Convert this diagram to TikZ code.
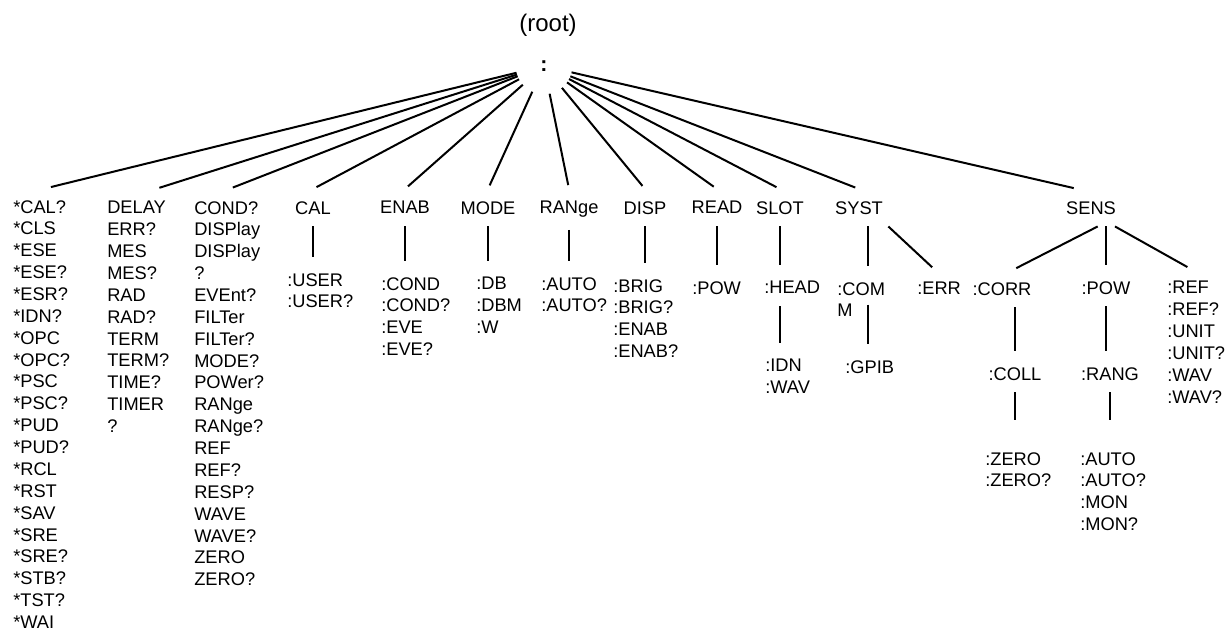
\documentclass[tikz,border=0pt]{standalone}
\usepackage{fontspec}
\setmainfont{Liberation Sans}
\usepackage{tikz}
\usetikzlibrary{positioning}

\begin{document}
\begin{tikzpicture}[x=0.75pt, y=-0.75pt,
    font=\fontsize{13.7}{16.4}\selectfont,
    lbl/.style={inner xsep=0pt, inner ysep=9pt, align=left},
    cmd/.style={lbl, anchor=north},
    lst/.style={lbl, anchor=north west},
    ln/.style={line width=1.5pt, shorten >=3pt},
    far/.style={ln, shorten >=15pt}
]
    \fill[white] (0,0) rectangle (1228,629);
    \useasboundingbox (0,0) rectangle (1228,629);

    \node[cmd, font=\fontsize{18}{20}\selectfont] (root) at (548,2) {(root)};
    \node[circle, inner sep=0pt, minimum size=42pt, font=\fontsize{16}{18}\selectfont\bfseries] (colon) at (544,66) {:};

    \node[lst] (ieee) at (13,188) {*CAL?\\*CLS\\*ESE\\*ESE?\\*ESR?\\*IDN?\\*OPC\\*OPC?\\*PSC\\*PSC?\\*PUD\\*PUD?\\*RCL\\*RST\\*SAV\\*SRE\\*SRE?\\*STB?\\*TST?\\*WAI};
    \node[lst] (delay) at (107,189) {DELAY\\ERR?\\MES\\MES?\\RAD\\RAD?\\TERM\\TERM?\\TIME?\\TIMER\\?};
    \node[lst] (cond) at (194,189) {COND?\\DISPlay\\DISPlay\\?\\EVEnt?\\FILTer\\FILTer?\\MODE?\\POWer?\\RANge\\RANge?\\REF\\REF?\\RESP?\\WAVE\\WAVE?\\ZERO\\ZERO?};
    \node[cmd] (cal) at (313,189) {CAL};
    \node[cmd] (enab) at (405,189) {ENAB};
    \node[cmd] (mode) at (488,189) {MODE};
    \node[cmd] (rang) at (569,189) {RANge};
    \node[cmd] (disp) at (645,189) {DISP};
    \node[cmd] (read) at (717,189) {READ};
    \node[cmd] (slot) at (780,189) {SLOT};
    \node[cmd] (syst) at (859,189) {SYST};
    \node[cmd] (sens) at (1091,189) {SENS};

    \draw[ln] (colon) -- ([xshift=4pt]ieee.north);
    \draw[ln] (colon) -- ([xshift=13pt]delay.north);
    \draw[ln] (colon) -- (cond.north);
    \draw[ln] (colon) -- (cal.north);
    \draw[ln] (colon) -- (enab.north);
    \draw[ln] (colon) -- (mode.north);
    \draw[ln] (colon) -- (rang.north);
    \draw[ln] (colon) -- (disp.north);
    \draw[ln] (colon) -- (read.north);
    \draw[ln] (colon) -- (slot.north);
    \draw[ln] (colon) -- (syst.north);
    \draw[ln] (colon) -- ([xshift=-10pt]sens.north);

    \node[lst] (calu) at (287,261) {:USER\\:USER?};
    \node[lst] (enabc) at (381,265) {:COND\\:COND?\\:EVE\\:EVE?};
    \node[lst] (modec) at (476,265) {:DB\\:DBM\\:W};
    \node[lst] (rangc) at (541,265) {:AUTO\\:AUTO?};
    \node[lst] (dispc) at (613,267) {:BRIG\\:BRIG?\\:ENAB\\:ENAB?};
    \node[lst] (readc) at (692,269) {:POW};
    \node[lst] (head) at (764,269) {:HEAD};
    \node[lst] (headc) at (765,347) {:IDN\\:WAV};
    \node[lst] (com) at (837,270) {:COM\\M};
    \node[lst] (gpib) at (845,348) {:GPIB};
    \node[lst] (err) at (917,270) {:ERR};
    \node[cmd] (corr) at (1002,270) {:CORR};
    \node[cmd] (pow) at (1106,269) {:POW};
    \node[lst] (ref) at (1167,269) {:REF\\:REF?\\:UNIT\\:UNIT?\\:WAV\\:WAV?};
    \node[cmd] (coll) at (1015,355) {:COLL};
    \node[cmd] (prang) at (1110,355) {:RANG};
    \node[lst] (zero) at (985,440) {:ZERO\\:ZERO?};
    \node[lst] (autoc) at (1080,440) {:AUTO\\:AUTO?\\:MON\\:MON?};

    \draw[ln] (cal) -- (cal |- calu.north);
    \draw[ln] (enab) -- (enab |- enabc.north);
    \draw[ln] (mode) -- (mode |- modec.north);
    \draw[ln] (rang) -- (rang |- rangc.north);
    \draw[ln] (disp) -- (disp |- dispc.north);
    \draw[ln] (read) -- (read |- readc.north);
    \draw[ln] (slot) -- (slot |- head.north);
    \draw[ln] (slot |- head.south) -- (slot |- headc.north);
    \draw[ln] ([xshift=7pt]syst.south) -- ([xshift=7pt]syst.south |- com.north);
    \draw[ln] ([xshift=7pt,yshift=-26pt]syst.south |- com.north) -- ([xshift=7pt]syst.south |- gpib.north);
    \draw[ln] ([xshift=22pt]syst.south) -- ([xshift=-3pt]err.north);
    \draw[ln] ([xshift=5pt]sens.south) -- ([xshift=8pt]corr.north);
    \draw[ln] (sens.south -| pow.north) -- (pow);
    \draw[ln] ([xshift=18pt]sens.south) -- ([xshift=-4pt]ref.north);
    \draw[ln] (coll |- corr.south) -- (coll);
    \draw[far] (coll) -- (coll |- zero.north);
    \draw[ln] (pow.south) -- (pow |- prang.north);
    \draw[far] (prang) -- (prang |- autoc.north);
\end{tikzpicture}
\end{document}
